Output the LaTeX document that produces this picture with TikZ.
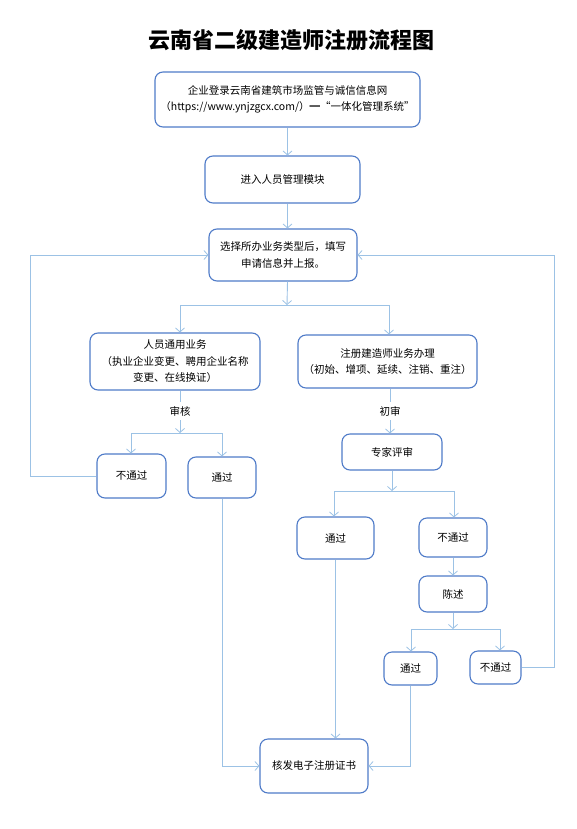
\documentclass[tikz,border=0pt]{standalone}
\usepackage{fontspec}
\setmainfont{Noto Sans CJK SC}
\usetikzlibrary{arrows.meta}
\definecolor{boxc}{HTML}{4F7BC8}
\definecolor{linec}{HTML}{9CC2E5}
\tikzset{
  box/.style={draw=boxc, line width=1.1pt, rounded corners=8pt, align=center, inner sep=0pt,
    font=\fontsize{10.5}{16.5}\selectfont, text=black},
  lbl/.style={font=\fontsize{10.5}{12}\selectfont, inner sep=4pt},
  conn/.style={draw=linec, line width=0.9pt},
  arr/.style={conn, -{Straight Barb[length=4pt,width=9pt,line width=0.8pt]}}
}
\begin{document}
\begin{tikzpicture}[x=1pt,y=-1pt]
\useasboundingbox (0,0) rectangle (577,829);
\node[font=\fontsize{22}{26}\selectfont\bfseries] (title) at (291,40) {云南省二级建造师注册流程图};

\node[box, minimum width=265, minimum height=55] (b1) at (287.5,99.5) {企业登录云南省建筑市场监管与诚信信息网\\（https://www.ynjzgcx.com/）━“一体化管理系统”};
\node[box, minimum width=155, minimum height=47] (b2) at (282.5,179.5) {进入人员管理模块};
\node[box, minimum width=148, minimum height=52] (b3) at (283,255) {选择所办业务类型后，填写\\申请信息并上报。};
\node[box, minimum width=170, minimum height=57] (b4) at (175,361.5) {人员通用业务\\（执业企业变更、聘用企业名称\\变更、在线换证）};
\node[box, minimum width=179, minimum height=53] (b5) at (387.5,361.5) {注册建造师业务办理\\（初始、增项、延续、注销、重注）};
\node[box, minimum width=69, minimum height=44] (n1) at (131.5,476) {不通过};
\node[box, minimum width=68, minimum height=41] (p1) at (222,477.5) {通过};
\node[box, minimum width=100, minimum height=36] (ex) at (392,452) {专家评审};
\node[box, minimum width=77, minimum height=42] (p2) at (335.5,538) {通过};
\node[box, minimum width=68, minimum height=39] (n2) at (453,537.5) {不通过};
\node[box, minimum width=68, minimum height=36] (cs) at (453,594) {陈述};
\node[box, minimum width=53, minimum height=33] (p3) at (410.5,668.5) {通过};
\node[box, minimum width=51, minimum height=33] (n3) at (495.5,667.5) {不通过};
\node[box, minimum width=108, minimum height=54] (fin) at (314,766) {核发电子注册证书};

\node[lbl] (sh) at (180,411) {审核};
\node[lbl] (cs0) at (390,411) {初审};

\coordinate (j1) at (287,305);
\coordinate (j1l) at (180,305);
\coordinate (j1r) at (389,305);
\coordinate (j2) at (180,433);
\coordinate (j2l) at (131,433);
\coordinate (j2r) at (222,433);
\coordinate (j3) at (392,491);
\coordinate (j3l) at (334,491);
\coordinate (j3r) at (454,491);
\coordinate (j4) at (453,629);
\coordinate (j4l) at (411,629);
\coordinate (j4r) at (500,629);
\coordinate (L) at (30,0);
\coordinate (R) at (554,0);

\draw[arr] (b1.south) -- (b1.south |- b2.north);
\draw[arr] (b1 |- b2.south) -- (b1 |- b3.north);
\draw[arr] (b1 |- b3.south) -- (j1);
\draw[conn] (j1l) -- (j1r);
\draw[arr] (j1l) -- (j1l |- b4.north);
\draw[arr] (j1r) -- (j1r |- b5.north);

\draw[conn] (sh |- b4.south) -- (sh.north);
\draw[arr] (sh.south) -- (j2);
\draw[conn] (j2l) -- (j2r);
\draw[arr] (j2l) -- (j2l |- n1.north);
\draw[arr] (j2r) -- (j2r |- p1.north);

\draw[arr] (n1.west) -- (n1.west -| L) -- (L |- b3.west) -- (b3.west);
\draw[arr] (n3.east) -- (n3.east -| R) -- (R |- b3.east) -- (b3.east);

\draw[arr] (p1.south) -- (p1 |- fin.west) -- (fin.west);

\draw[conn] (cs0 |- b5.south) -- (cs0.north);
\draw[arr] (cs0.south) -- (cs0 |- ex.north);
\draw[arr] (ex.south) -- (j3);
\draw[conn] (j3l) -- (j3r);
\draw[arr] (j3l) -- (j3l |- p2.north);
\draw[arr] (j3r) -- (j3r |- n2.north);

\draw[arr] (p2.south) -- (p2.south |- fin.north);
\draw[arr] (n2.south) -- (cs.north);
\draw[arr] (cs.south) -- (j4);
\draw[conn] (j4l) -- (j4r);
\draw[arr] (j4l) -- (j4l |- p3.north);
\draw[arr] (j4r) -- (j4r |- n3.north);
\draw[arr] (p3.south) -- (p3.south |- fin.east) -- (fin.east);
\end{tikzpicture}
\end{document}
